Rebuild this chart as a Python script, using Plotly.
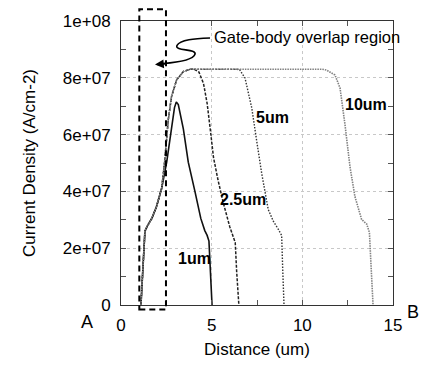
import plotly.graph_objects as go

# ---- data (Distance in um, Current density in A/cm^2) ----
x_1um = [1.10, 1.32, 1.45, 1.70, 1.95, 2.24, 2.52, 2.79, 2.95, 3.05, 3.16, 3.44, 3.71, 4.08, 4.40, 4.62, 4.75, 4.85, 4.93, 5.02]
y_1um = [0.0, 2.6e7, 2.78e7, 3.05e7, 3.45e7, 4.1e7, 5.03e7, 6.19e7, 6.95e7, 7.15e7, 7.06e7, 6.19e7, 5.03e7, 3.99e7, 3.05e7, 2.62e7, 2.45e7, 2.25e7, 1.2e7, 0.0]

x_25um = [1.10, 1.32, 1.45, 1.70, 1.95, 2.24, 2.40, 2.61, 2.79, 3.07, 3.44, 3.81, 4.05, 4.30, 4.55, 4.75, 4.92, 5.10, 5.35, 5.64, 6.00, 6.20, 6.30, 6.38, 6.50]
y_25um = [0.0, 2.6e7, 2.78e7, 3.05e7, 3.45e7, 4.1e7, 5.0e7, 6.54e7, 7.35e7, 7.93e7, 8.22e7, 8.3e7, 8.3e7, 8.2e7, 7.8e7, 7.1e7, 6.2e7, 5.2e7, 4.4e7, 3.6e7, 2.75e7, 2.4e7, 2.2e7, 1.16e7, 0.0]

x_5um = [1.10, 1.32, 1.45, 1.70, 1.95, 2.24, 2.40, 2.61, 2.79, 3.07, 3.44, 3.81, 6.40, 6.56, 6.84, 7.05, 7.21, 7.48, 7.76, 8.12, 8.40, 8.68, 8.86, 8.92, 8.99]
y_5um = [0.0, 2.6e7, 2.78e7, 3.05e7, 3.45e7, 4.1e7, 5.0e7, 6.54e7, 7.35e7, 7.93e7, 8.22e7, 8.3e7, 8.3e7, 8.27e7, 7.99e7, 7.4e7, 6.94e7, 5.79e7, 4.63e7, 3.36e7, 2.95e7, 2.66e7, 2.45e7, 1.22e7, 0.0]

x_10um = [1.10, 1.32, 1.45, 1.70, 1.95, 2.24, 2.40, 2.61, 2.79, 3.07, 3.44, 3.81, 11.10, 11.34, 11.80, 12.08, 12.35, 12.63, 12.90, 13.27, 13.55, 13.70, 13.78, 13.90]
y_10um = [0.0, 2.6e7, 2.78e7, 3.05e7, 3.45e7, 4.1e7, 5.0e7, 6.54e7, 7.35e7, 7.93e7, 8.22e7, 8.3e7, 8.3e7, 8.27e7, 8.1e7, 7.64e7, 6.36e7, 4.86e7, 3.82e7, 3.01e7, 2.85e7, 2.55e7, 1.5e7, 0.0]

y_tickvals = [0, 2e7, 4e7, 6e7, 8e7, 1e8]
y_ticktext = ["0", "2e+07", "4e+07", "6e+07", "8e+07", "1e+08"]
x_tickvals = [0, 5, 10, 15]
x_ticktext = ["0", "5", "10", "15"]

series_labels = ["1um", "2.5um", "5um", "10um"]
overlap_region = [1.01, 2.48]  # um

FONT = "Liberation Sans, Arial, sans-serif"
W, H = 423, 367
L, R, T, B = 121, 30, 16, 61

def px(p):
    return (p - L) / (W - L - R)

def py(p):
    return (H - B - p) / (H - T - B)

fig = go.Figure()
fig.add_trace(go.Scatter(x=x_1um, y=y_1um, mode="lines",
                         line=dict(color="#111111", width=1.6), name=series_labels[0]))
fig.add_trace(go.Scatter(x=x_25um, y=y_25um, mode="lines",
                         line=dict(color="#222222", width=1.5, dash="3px,1.5px"), name=series_labels[1]))
fig.add_trace(go.Scatter(x=x_5um, y=y_5um, mode="lines",
                         line=dict(color="#333333", width=1.4, dash="1.5px,1.5px"), name=series_labels[2]))
fig.add_trace(go.Scatter(x=x_10um, y=y_10um, mode="lines",
                         line=dict(color="#808080", width=1.6, dash="1.5px,1px"), name=series_labels[3]))

axis_common = dict(
    showline=True, linecolor="#333333", linewidth=1, mirror="ticks",
    ticks="inside", ticklen=5, tickcolor="#555555", tickwidth=1,
    showgrid=True, gridcolor="#c8c8c8", griddash="dot", gridwidth=1,
    zeroline=False, tickfont=dict(family=FONT, size=17, color="black"),
)

fig.update_xaxes(range=[0, 15], tickvals=x_tickvals, ticktext=x_ticktext,
                 minor=dict(dtick=2.5, tick0=0, ticks="inside", ticklen=5, tickcolor="#555555", showgrid=False),
                 title=dict(text="Distance (um)", font=dict(family=FONT, size=17, color="black"), standoff=8),
                 ticklabelstandoff=5, **axis_common)
fig.update_yaxes(range=[0, 1e8], tickvals=y_tickvals, ticktext=y_ticktext,
                 minor=dict(dtick=1e7, tick0=0, ticks="inside", ticklen=5, tickcolor="#555555", showgrid=False),
                 title=dict(text="Current Density (A/cm-2)", font=dict(family=FONT, size=17, color="black"), standoff=22),
                 ticklabelstandoff=6, **axis_common)

# dashed overlap rectangle (extends beyond plot area)
x0p = overlap_region[0] / 15
x1p = overlap_region[1] / 15
fig.add_shape(type="rect", xref="paper", yref="paper",
              x0=x0p, x1=x1p, y0=py(310.7), y1=py(4),
              line=dict(color="black", width=2, dash="6px,4px"), fillcolor="rgba(0,0,0,0)")

# squiggly arrow
pts = [(210, 33.3), (195, 34), (180, 35), (177, 41), (174, 47), (197, 44), (195, 50), (193, 56), (175, 58.5), (163, 59.5)]
path = "M {} {} C {} {}, {} {}, {} {} C {} {}, {} {}, {} {} C {} {}, {} {}, {} {}".format(
    *sum([[px(a), py(b)] for a, b in pts], []))
fig.add_shape(type="path", xref="paper", yref="paper", path=path,
              line=dict(color="black", width=1.6))

def label(xp, yp, text, size=16, anchor="center"):
    return dict(x=px(xp), y=py(yp), xref="paper", yref="paper", xanchor=anchor, yanchor="middle",
                text=text, showarrow=False, font=dict(family=FONT, size=size, color="black"))

annotations = [
    dict(x=px(155), y=py(60.5), xref="paper", yref="paper", ax=12, ay=-1,
         showarrow=True, arrowhead=2, arrowsize=1.1, arrowwidth=1.6, arrowcolor="black", text=""),
    label(212, 32, "Gate-body overlap region", size=16.5, anchor="left"),
    label(194, 259, "<b>1um</b>"),
    label(243, 198, "<b>2.5um</b>"),
    label(272, 115, "<b>5um</b>"),
    label(366, 101, "<b>10um</b>"),
    label(87, 323, "A", size=18),
    label(413, 313, "B", size=18),
]

fig.update_layout(
    width=W, height=H,
    margin=dict(l=L, r=R, t=T, b=B, pad=0),
    paper_bgcolor="white", plot_bgcolor="white",
    showlegend=False,
    annotations=annotations,
    font=dict(family=FONT, size=16, color="black"),
)

fig.write_html("out.html")
